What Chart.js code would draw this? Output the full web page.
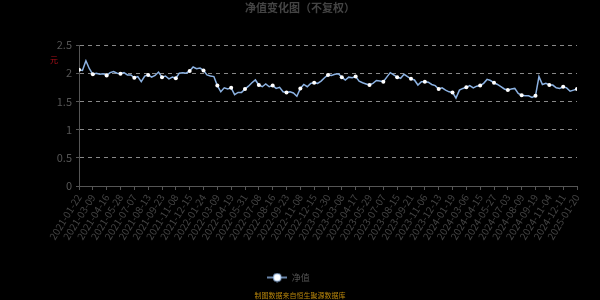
<!DOCTYPE html>
<html>
<head>
<meta charset="utf-8">
<script src="https://cdn.jsdelivr.net/npm/chart.js@4.4.1/dist/chart.umd.min.js"></script>
<style>
  html, body { margin: 0; padding: 0; background: #000; }
  #wrap { width: 600px; height: 300px; }
</style>
</head>
<body>
<div id="wrap"><canvas id="myChart" width="600" height="300"></canvas></div>
<script>
// tick dates shown on the x axis
const tickDates = ['2021-01-22','2021-03-09','2021-04-16','2021-05-28','2021-07-07','2021-08-13','2021-09-23','2021-11-08','2021-12-15',
  '2022-01-24','2022-03-09','2022-04-19','2022-05-31','2022-07-08','2022-08-16','2022-09-23','2022-11-08','2022-12-15',
  '2023-01-30','2023-03-08','2023-04-17','2023-05-29','2023-07-07','2023-08-15','2023-09-21','2023-11-06','2023-12-13',
  '2024-01-19','2024-03-06','2024-04-15','2024-05-27','2024-07-03','2024-08-09','2024-09-19','2024-11-04','2024-12-11','2025-01-20']

// samples between two tick dates
const pointsPerTick = 4

// net value, 4 samples per tick interval (first of each group falls on the tick date)
const navValues = [
  2.06, 2.05, 2.22, 2.08,
  1.98, 2.00, 1.98, 1.99,
  1.96, 2.01, 2.03, 2.00,
  1.99, 2.01, 1.97, 1.97,
  1.92, 1.94, 1.85, 1.95,
  1.97, 1.93, 1.96, 2.02,
  1.93, 1.95, 1.90, 1.93,
  1.91, 2.00, 2.01, 2.00,
  2.04, 2.11, 2.08, 2.09,
  2.05, 1.97, 1.95, 1.94,
  1.78, 1.67, 1.74, 1.72,
  1.74, 1.62, 1.66, 1.66,
  1.72, 1.77, 1.83, 1.88,
  1.79, 1.76, 1.81, 1.76,
  1.78, 1.73, 1.75, 1.67,
  1.66, 1.67, 1.65, 1.59,
  1.73, 1.80, 1.76, 1.82,
  1.83, 1.82, 1.86, 1.92,
  1.97, 1.96, 1.98, 1.99,
  1.93, 1.88, 1.93, 1.92,
  1.94, 1.86, 1.83, 1.81,
  1.79, 1.82, 1.87, 1.86,
  1.85, 1.93, 2.01, 1.97,
  1.93, 1.91, 1.98, 1.94,
  1.90, 1.88, 1.79, 1.85,
  1.85, 1.84, 1.80, 1.78,
  1.72, 1.74, 1.70, 1.67,
  1.66, 1.56, 1.70, 1.73,
  1.75, 1.78, 1.74, 1.77,
  1.78, 1.82, 1.89, 1.87,
  1.83, 1.80, 1.76, 1.72,
  1.70, 1.72, 1.73, 1.64,
  1.61, 1.60, 1.60, 1.57,
  1.60, 1.94, 1.80, 1.82,
  1.79, 1.79, 1.74, 1.73,
  1.76, 1.74, 1.68, 1.70,
  1.72
]

const yTicks = [0, 0.5, 1, 1.5, 2, 2.5]

const seriesName = '净值'
const titleText = '净值变化图（不复权）'
const unitText = '元'
const footerText = '制图数据来自恒生聚源数据库'

const lineColor = 'rgb(140,178,226)'
const FONT = '"Noto Sans CJK SC", "Noto Sans", sans-serif'

const points = navValues.map((v, i) => ({ x: i, y: v }))

// legend marker: line with a white dot
const legendIcon = document.createElement('canvas')
legendIcon.width = 20
legendIcon.height = 10
{
  const c = legendIcon.getContext('2d')
  c.strokeStyle = lineColor
  c.lineWidth = 1.5
  c.beginPath(); c.moveTo(0, 5); c.lineTo(20, 5); c.stroke()
  c.fillStyle = '#fff'
  c.beginPath(); c.arc(10, 5, 4, 0, Math.PI * 2); c.fill()
  c.lineWidth = 1
  c.stroke()
}

const textPlugin = {
  id: 'texts',
  afterDraw(chart) {
    const ctx = chart.ctx
    ctx.save()
    ctx.textAlign = 'center'
    ctx.textBaseline = 'middle'
    ctx.fillStyle = '#444'
    ctx.font = 'bold 11px ' + FONT
    ctx.fillText(titleText, 300, 8)
    ctx.fillStyle = '#b0101a'
    ctx.font = '8px ' + FONT
    ctx.fillText(unitText, 54, 60)
    ctx.fillStyle = '#b8860b'
    ctx.font = '7px ' + FONT
    ctx.fillText(footerText, 300, 295)
    ctx.restore()
  }
}

new Chart(document.getElementById('myChart'), {
  type: 'line',
  data: {
    datasets: [{
      label: seriesName,
      data: points,
      borderColor: lineColor,
      borderWidth: 1.5,
      pointRadius: ctx => (ctx.dataIndex % pointsPerTick === 0 ? 2 : 0),
      pointBackgroundColor: '#fff',
      pointBorderColor: '#fff',
      pointBorderWidth: 0,
      tension: 0
    }]
  },
  options: {
    responsive: false,
    animation: false,
    layout: { padding: { top: 45, right: 23, bottom: 8, left: 0 } },
    plugins: {
      legend: {
        position: 'bottom',
        labels: {
          color: '#555',
          font: { size: 9, family: FONT },
          usePointStyle: true,
          pointStyleWidth: 20,
          padding: 8,
          generateLabels: chart => [{
            text: seriesName,
            pointStyle: legendIcon,
            fontColor: '#555',
            datasetIndex: 0,
            lineWidth: 0
          }]
        }
      },
      tooltip: { enabled: false },
      title: { display: false }
    },
    scales: {
      x: {
        type: 'linear',
        min: 0,
        max: (tickDates.length - 1) * pointsPerTick,
        afterBuildTicks: scale => {
          scale.ticks = tickDates.map((d, i) => ({ value: i * pointsPerTick }))
        },
        afterFit: scale => { scale.height = 79 },
        ticks: {
          autoSkip: false,
          maxRotation: 58,
          minRotation: 58,
          color: '#444',
          font: { size: 10, family: FONT },
          padding: 2,
          callback: v => tickDates[Math.round(v / pointsPerTick)]
        },
        grid: { display: true, drawOnChartArea: false, drawTicks: true, tickLength: 4, color: '#555' },
        border: { display: true, color: '#555' }
      },
      y: {
        min: 0,
        max: 2.5,
        afterBuildTicks: scale => {
          scale.ticks = yTicks.map(v => ({ value: v }))
        },
        afterFit: scale => { scale.width = 79 },
        ticks: {
          color: '#555',
          font: { size: 11, family: FONT },
          padding: 4,
          callback: v => String(v)
        },
        grid: {
          color: '#888',
          tickBorderDash: [],
          tickColor: '#555',
          tickLength: 3,
          drawTicks: true
        },
        border: { display: true, color: '#555', dash: [4, 4] }
      }
    }
  },
  plugins: [textPlugin]
})
</script>
</body>
</html>
